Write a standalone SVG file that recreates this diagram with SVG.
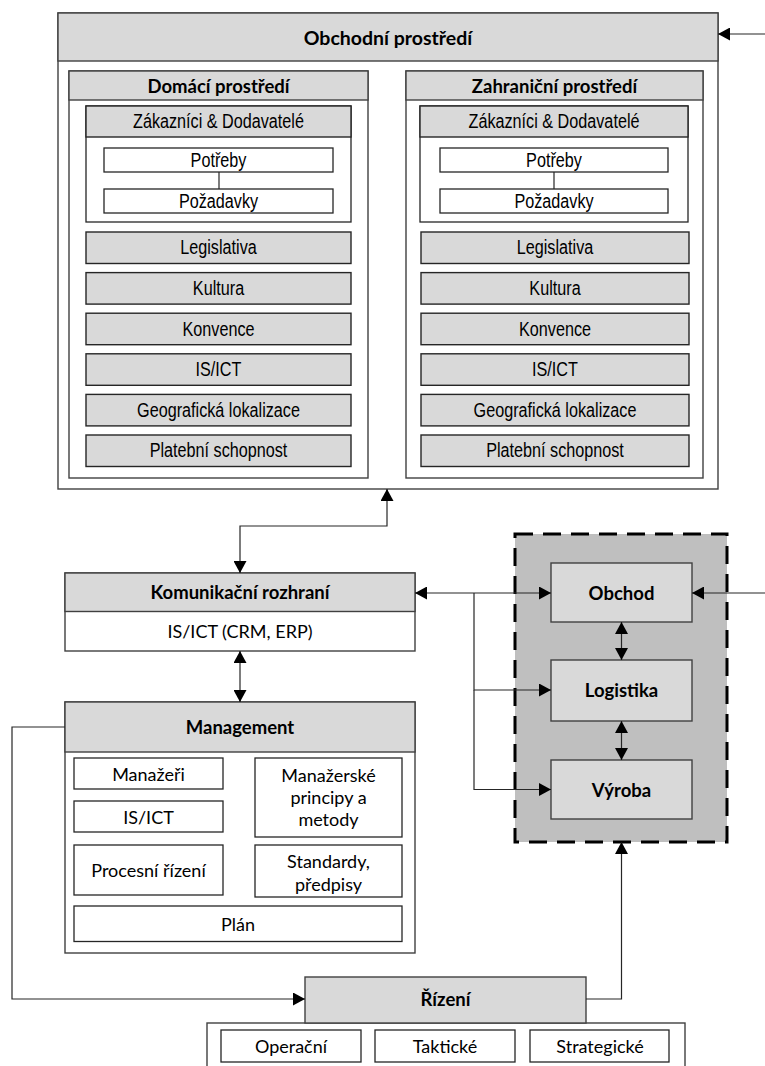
<svg xmlns="http://www.w3.org/2000/svg" width="765" height="1066" viewBox="0 0 765 1066">
<defs>
<style>
.box{fill:#ffffff;stroke:#404040;stroke-width:1.4}
.hdr{fill:#d9d9d9;stroke:#404040;stroke-width:1.4}
.it{fill:#d9d9d9;stroke:#262626;stroke-width:1.4}
.wb{fill:#ffffff;stroke:#262626;stroke-width:1.3}
.cn{fill:none;stroke:#262626;stroke-width:1.2}
.tb{font-family:Lato,"Open Sans",sans-serif;font-weight:bold;font-size:18.5px;fill:#000;text-anchor:middle;dominant-baseline:central}
.tt{font-size:19.5px}
.tc{font-family:Lato,"Open Sans",sans-serif;font-size:18px;fill:#000;text-anchor:middle;dominant-baseline:central}
.tn{font-family:"Liberation Sans",Arial,sans-serif;font-size:20px;fill:#000;text-anchor:middle;dominant-baseline:central}
</style>
<marker id="ah" markerUnits="userSpaceOnUse" markerWidth="13" markerHeight="13" viewBox="0 0 12 13" refX="12" refY="6.5" orient="auto-start-reverse">
<path d="M0,0 L12,6.5 L0,13 z" fill="#000"/>
</marker>
</defs>

<g id="obchodni-prostredi">
<rect class="box" x="58" y="13" width="660" height="476"/>
<rect class="hdr" x="58" y="13" width="660" height="48"/>
<text class="tb tt" x="388" y="37">Obchodní prostředí</text>
</g>

<g id="domaci">
<rect class="box" x="69" y="71" width="299" height="407"/>
<rect class="hdr" x="69" y="71" width="299" height="29"/>
<text class="tb" x="218.5" y="85.5">Domácí prostředí</text>
<rect class="wb" x="86" y="106" width="265" height="116"/>
<rect class="it" x="86" y="106" width="265" height="31"/>
<text class="tn" transform="scale(0.81,1)" x="269.75" y="121.5">Zákazníci &amp; Dodavatelé</text>
<line class="cn" x1="219" y1="172" x2="219" y2="189"/>
<rect class="wb" x="104" y="148" width="229" height="24"/>
<text class="tn" transform="scale(0.81,1)" x="269.75" y="160">Potřeby</text>
<rect class="wb" x="104" y="189" width="229" height="24"/>
<text class="tn" transform="scale(0.81,1)" x="269.75" y="201">Požadavky</text>
<rect class="it" x="86" y="232" width="265" height="31.5"/>
<text class="tn" transform="scale(0.81,1)" x="269.75" y="247.8">Legislativa</text>
<rect class="it" x="86" y="272.6" width="265" height="31.5"/>
<text class="tn" transform="scale(0.81,1)" x="269.75" y="288.4">Kultura</text>
<rect class="it" x="86" y="313.2" width="265" height="31.5"/>
<text class="tn" transform="scale(0.81,1)" x="269.75" y="329">Konvence</text>
<rect class="it" x="86" y="353.8" width="265" height="31.5"/>
<text class="tn" transform="scale(0.81,1)" x="269.75" y="369.6">IS/ICT</text>
<rect class="it" x="86" y="394.4" width="265" height="31.5"/>
<text class="tn" transform="scale(0.81,1)" x="269.75" y="410.2">Geografická lokalizace</text>
<rect class="it" x="86" y="435" width="265" height="31.5"/>
<text class="tn" transform="scale(0.81,1)" x="269.75" y="450.8">Platební schopnost</text>
</g>

<g id="zahranicni">
<rect class="box" x="406" y="71" width="297" height="407"/>
<rect class="hdr" x="406" y="71" width="297" height="29"/>
<text class="tb" x="554.5" y="85.5">Zahraniční prostředí</text>
<rect class="wb" x="420" y="106" width="268" height="116"/>
<rect class="it" x="420" y="106" width="268" height="31"/>
<text class="tn" transform="scale(0.81,1)" x="683.95" y="121.5">Zákazníci &amp; Dodavatelé</text>
<line class="cn" x1="554" y1="172" x2="554" y2="189"/>
<rect class="wb" x="440" y="148" width="228" height="24"/>
<text class="tn" transform="scale(0.81,1)" x="683.95" y="160">Potřeby</text>
<rect class="wb" x="440" y="189" width="228" height="24"/>
<text class="tn" transform="scale(0.81,1)" x="683.95" y="201">Požadavky</text>
<rect class="it" x="421" y="232" width="268" height="31.5"/>
<text class="tn" transform="scale(0.81,1)" x="685.19" y="247.8">Legislativa</text>
<rect class="it" x="421" y="272.6" width="268" height="31.5"/>
<text class="tn" transform="scale(0.81,1)" x="685.19" y="288.4">Kultura</text>
<rect class="it" x="421" y="313.2" width="268" height="31.5"/>
<text class="tn" transform="scale(0.81,1)" x="685.19" y="329">Konvence</text>
<rect class="it" x="421" y="353.8" width="268" height="31.5"/>
<text class="tn" transform="scale(0.81,1)" x="685.19" y="369.6">IS/ICT</text>
<rect class="it" x="421" y="394.4" width="268" height="31.5"/>
<text class="tn" transform="scale(0.81,1)" x="685.19" y="410.2">Geografická lokalizace</text>
<rect class="it" x="421" y="435" width="268" height="31.5"/>
<text class="tn" transform="scale(0.81,1)" x="685.19" y="450.8">Platební schopnost</text>
</g>

<g id="komunikacni-rozhrani">
<rect class="box" x="65" y="573" width="350" height="78"/>
<rect class="hdr" x="65" y="573" width="350" height="38.5"/>
<text class="tb" x="240" y="592">Komunikační rozhraní</text>
<text class="tc" x="240" y="631">IS/ICT (CRM, ERP)</text>
</g>

<g id="management">
<rect class="box" x="65" y="702" width="350" height="251"/>
<rect class="hdr" x="65" y="702" width="350" height="50"/>
<text class="tb" x="240" y="727">Management</text>
<rect class="wb" x="74" y="758" width="149" height="31"/>
<text class="tc" x="148.5" y="774">Manažeři</text>
<rect class="wb" x="74" y="801" width="149" height="31"/>
<text class="tc" x="148.5" y="816.5">IS/ICT</text>
<rect class="wb" x="74" y="845" width="149" height="50"/>
<text class="tc" x="148.5" y="870">Procesní řízení</text>
<rect class="wb" x="255" y="758" width="147" height="79"/>
<text class="tc" x="328.5" y="775">Manažerské</text>
<text class="tc" x="328.5" y="797">principy a</text>
<text class="tc" x="328.5" y="819">metody</text>
<rect class="wb" x="255" y="845" width="147" height="52"/>
<text class="tc" x="328.5" y="861">Standardy,</text>
<text class="tc" x="328.5" y="884">předpisy</text>
<rect class="wb" x="74" y="906" width="328" height="35.5"/>
<text class="tc" x="238" y="924">Plán</text>
</g>

<g id="firma">
<rect x="515" y="534" width="212" height="308" fill="#bfbfbf" stroke="#000" stroke-width="3" stroke-dasharray="18,10"/>
</g>
<g id="obchod">
<rect class="hdr" x="551" y="563" width="141" height="59"/>
<text class="tb" x="621.5" y="593">Obchod</text>
</g>
<g id="logistika">
<rect class="hdr" x="551" y="660" width="141" height="61"/>
<text class="tb" x="621.5" y="690">Logistika</text>
</g>
<g id="vyroba">
<rect class="hdr" x="551" y="760" width="141" height="59"/>
<text class="tb" x="621.5" y="789.5">Výroba</text>
</g>

<g id="rizeni">
<rect class="box" x="207" y="1023" width="478" height="60"/>
<rect class="hdr" x="305" y="977" width="281" height="46"/>
<text class="tb" x="445.5" y="999">Řízení</text>
<rect class="wb" x="221" y="1030" width="140" height="32"/>
<text class="tc" x="291" y="1046">Operační</text>
<rect class="wb" x="375" y="1030" width="140" height="32"/>
<text class="tc" x="445" y="1046">Taktické</text>
<rect class="wb" x="530" y="1030" width="139" height="32"/>
<text class="tc" x="600" y="1046">Strategické</text>
</g>

<g id="connectors">
<path class="cn" d="M765,34 L718,34" marker-end="url(#ah)"/>
<path class="cn" d="M387,489 L387,526 L240,526 L240,573" marker-start="url(#ah)" marker-end="url(#ah)"/>
<path class="cn" d="M240,651 L240,702" marker-start="url(#ah)" marker-end="url(#ah)"/>
<path class="cn" d="M415,593 L551,593" marker-start="url(#ah)" marker-end="url(#ah)"/>
<path class="cn" d="M474,593 L474,690 L551,690" marker-end="url(#ah)"/>
<path class="cn" d="M474,690 L474,789.5 L551,789.5" marker-end="url(#ah)"/>
<path class="cn" d="M765,593 L692,593" marker-end="url(#ah)"/>
<path class="cn" d="M621.5,622 L621.5,660" marker-start="url(#ah)" marker-end="url(#ah)"/>
<path class="cn" d="M621.5,721 L621.5,760" marker-start="url(#ah)" marker-end="url(#ah)"/>
<path class="cn" d="M65,727 L12,727 L12,999 L305,999" marker-end="url(#ah)"/>
<path class="cn" d="M586,999 L621.5,999 L621.5,842" marker-end="url(#ah)"/>
</g>
</svg>
